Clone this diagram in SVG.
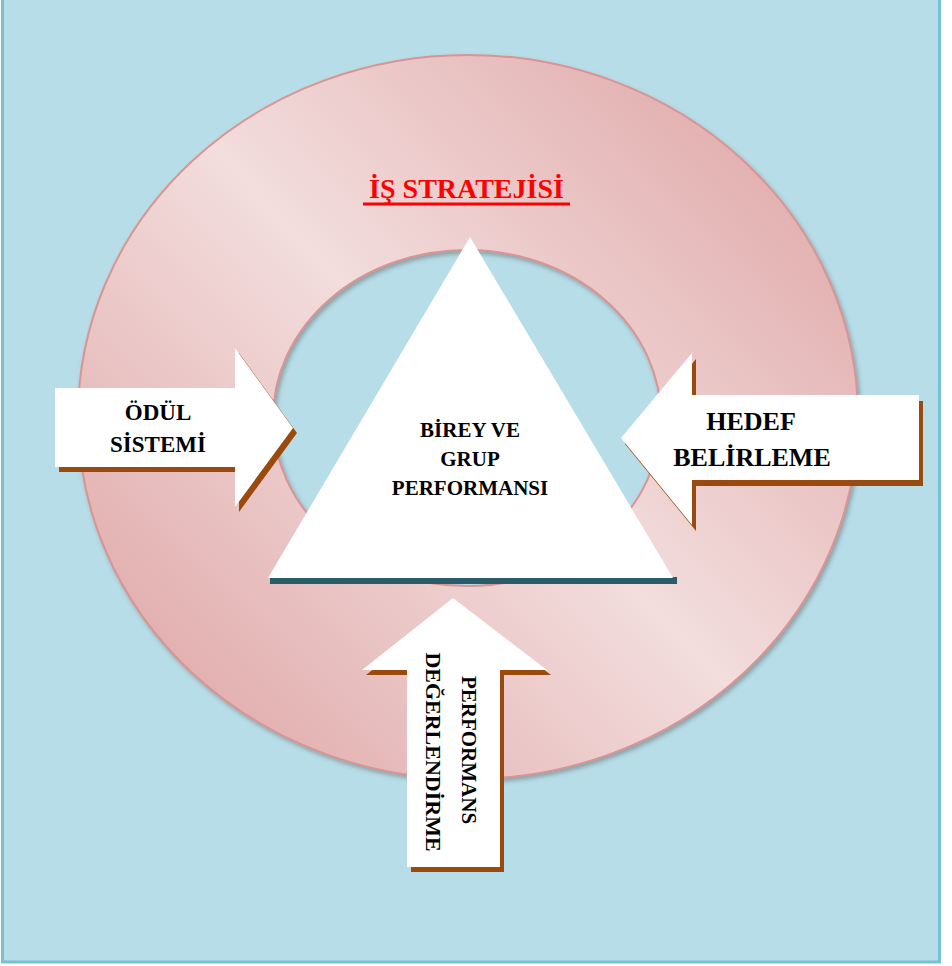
<svg xmlns="http://www.w3.org/2000/svg" width="952" height="966" viewBox="0 0 952 966">
<defs>
<linearGradient id="ringGrad" gradientUnits="userSpaceOnUse" x1="110" y1="760" x2="830" y2="70">
<stop offset="0" stop-color="#dea3a3"/>
<stop offset="0.5" stop-color="#f3dddd"/>
<stop offset="1" stop-color="#dea3a3"/>
</linearGradient>
<filter id="ringShadow" x="-10%" y="-10%" width="120%" height="120%">
<feDropShadow dx="2" dy="3" stdDeviation="2" flood-color="#5a5a5a" flood-opacity="0.45"/>
</filter>
<style>
.lbl{font-family:"Liberation Serif","Times New Roman",serif;font-weight:bold;fill:#000;text-anchor:middle}
.arrow{fill:#ffffff}
.ashadow{fill:#9a4a0c}
</style>
</defs>
<rect x="2.5" y="-2" width="937" height="964" fill="#b7dde8" stroke="#76c1d4" stroke-width="3"/>
<g id="ring">
<path d="M78,417 a390,362 0 1,0 780,0 a390,362 0 1,0 -780,0 Z M273,418 a194,168 0 1,1 388,0 a194,168 0 1,1 -388,0 Z" fill="url(#ringGrad)" fill-rule="evenodd" stroke="#d99494" stroke-width="2" filter="url(#ringShadow)"/>
<text class="lbl" x="466.5" y="198" font-size="28" fill="#ff0000" style="fill:#ff0000">İŞ STRATEJİSİ</text>
<rect x="363" y="202.5" width="207" height="3" fill="#ff0000"/>
</g>
<g id="triangle">
<rect x="270" y="577" width="407" height="7" fill="#2a5d6a"/>
<polygon points="470,237 268,578 673,578" fill="#ffffff"/>
<text class="lbl" font-size="21"><tspan x="470" y="437">BİREY VE</tspan><tspan x="470" y="466">GRUP</tspan><tspan x="470" y="495">PERFORMANSI</tspan></text>
</g>
<g id="connectors">
<g id="odul">
<polygon class="ashadow" transform="translate(4,5)" points="55,388 235,388 235,348 293,428 235,507 235,467 55,467"/>
<polygon class="arrow" points="55,388 235,388 235,348 293,428 235,507 235,467 55,467"/>
<text class="lbl" font-size="23"><tspan x="158" y="420">ÖDÜL</tspan><tspan x="158" y="452">SİSTEMİ</tspan></text>
</g>
<g id="hedef">
<polygon class="ashadow" transform="translate(4,6)" points="919,395 692,395 692,353 621,438 692,525 692,480 919,480"/>
<polygon class="arrow" points="919,395 692,395 692,353 621,438 692,525 692,480 919,480"/>
<text class="lbl" font-size="26"><tspan x="751" y="430">HEDEF</tspan><tspan x="752" y="466">BELİRLEME</tspan></text>
</g>
<g id="performans">
<polygon class="ashadow" transform="translate(4,5)" points="453,598 547,670 500,670 500,867 407,867 407,670 362,670"/>
<polygon class="arrow" points="453,598 547,670 500,670 500,867 407,867 407,670 362,670"/>
<text class="lbl" font-size="21" transform="translate(462,750) rotate(90)" x="0" y="0">PERFORMANS</text>
<text class="lbl" font-size="22" transform="translate(426,752) rotate(90)" x="0" y="0">DEĞERLENDİRME</text>
</g>
</g>
</svg>
